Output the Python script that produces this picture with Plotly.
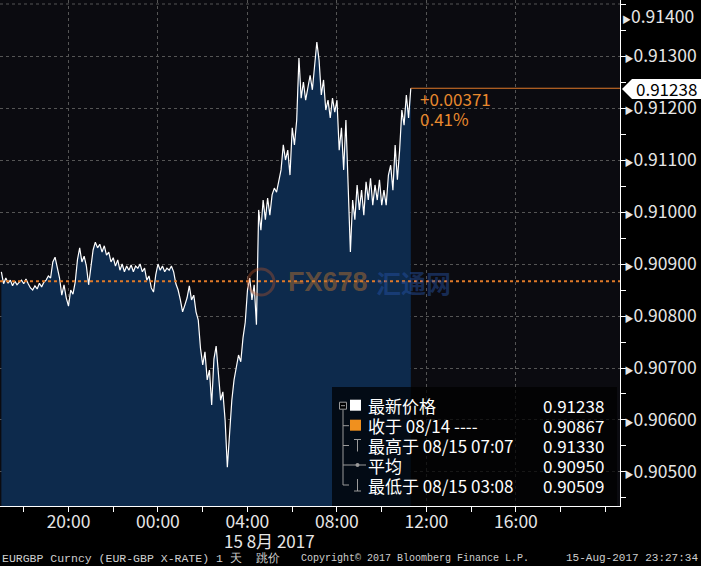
import plotly.graph_objects as go
import pandas as pd

# ---------------- data ----------------
times = pd.date_range("2017-08-14 17:00", periods=184, freq="6min")
prices = [
    0.90885, 0.90862, 0.90873, 0.90863, 0.90869, 0.90858, 0.90867, 0.90860, 0.90865, 0.90869,
    0.90862, 0.90871, 0.90862, 0.90854, 0.90850, 0.90858, 0.90852, 0.90863, 0.90856, 0.90865,
    0.90869, 0.90877, 0.90873, 0.90904, 0.90913, 0.90892, 0.90873, 0.90840, 0.90860, 0.90835,
    0.90819, 0.90850, 0.90842, 0.90865, 0.90908, 0.90931, 0.90904, 0.90915, 0.90896, 0.90860,
    0.90892, 0.90927, 0.90942, 0.90931, 0.90938, 0.90923, 0.90935, 0.90917, 0.90923, 0.90904,
    0.90912, 0.90896, 0.90908, 0.90888, 0.90900, 0.90885, 0.90896, 0.90888, 0.90898, 0.90885,
    0.90896, 0.90892, 0.90900, 0.90885, 0.90892, 0.90869, 0.90877, 0.90854, 0.90846, 0.90879,
    0.90900, 0.90888, 0.90896, 0.90885, 0.90892, 0.90888, 0.90896, 0.90885, 0.90862, 0.90850,
    0.90831, 0.90808, 0.90821, 0.90835, 0.90858, 0.90831, 0.90840, 0.90808, 0.90792, 0.90738,
    0.90706, 0.90731, 0.90677, 0.90696, 0.90629, 0.90717, 0.90742, 0.90688, 0.90638, 0.90654,
    0.90600, 0.90509, 0.90581, 0.90638, 0.90677, 0.90700, 0.90725, 0.90712, 0.90758, 0.90788,
    0.90850, 0.90873, 0.90831, 0.90860, 0.90783, 0.91004, 0.90965, 0.91023, 0.90985, 0.91027,
    0.90994, 0.91033, 0.91046, 0.91038, 0.91062, 0.91081, 0.91129, 0.91100, 0.91119, 0.91071,
    0.91162, 0.91129, 0.91177, 0.91296, 0.91219, 0.91250, 0.91215, 0.91238, 0.91263, 0.91235,
    0.91283, 0.91327, 0.91292, 0.91225, 0.91254, 0.91196, 0.91215, 0.91181, 0.91219, 0.91192,
    0.91215, 0.91119, 0.91162, 0.91081, 0.91177, 0.91033, 0.90923, 0.91023, 0.90985, 0.91052,
    0.91004, 0.91042, 0.90994, 0.91058, 0.91023, 0.91065, 0.91013, 0.91052, 0.91023, 0.91062,
    0.91013, 0.91042, 0.91013, 0.91071, 0.91090, 0.91042, 0.91129, 0.91062, 0.91119, 0.91196,
    0.91167, 0.91225, 0.91181, 0.91238,
]
prev_close = 0.90867

x_tickvals = ["2017-08-14 20:00", "2017-08-15 00:00", "2017-08-15 04:00",
              "2017-08-15 08:00", "2017-08-15 12:00", "2017-08-15 16:00"]
x_ticktext = ["20:00", "00:00", "04:00", "08:00", "12:00", "16:00"]
y_tickvals = [0.905, 0.906, 0.907, 0.908, 0.909, 0.910, 0.911, 0.912, 0.913, 0.914]
y_ticktext = ["0.90500", "0.90600", "0.90700", "0.90800", "0.90900",
              "0.91000", "0.91100", "0.91200", "0.91300", "0.91400"]

legend_labels = ["最新价格", "收于 08/14 ----", "最高于 08/15 07:07", "平均", "最低于 08/15 03:08"]
legend_values = ["0.91238", "0.90867", "0.91330", "0.90950", "0.90509"]

date_label = "15 8月 2017"
footer_left = "EURGBP Curncy (EUR-GBP X-RATE) 1 天  跳价"
footer_mid = "Copyright© 2017 Bloomberg Finance L.P."
footer_right = "15-Aug-2017 23:27:34"

# ---------------- layout helpers ----------------
W, H = 701, 566
PW, PH = 620, 506  # plot area in pixels


def px(x):
    return x / PW


def py(y):
    return (PH - y) / PH


ORANGE = "#e07a28"
FONT = "Noto Sans CJK SC, Noto Sans, sans-serif"
TICK_SIZE = 17.5
x_range = ["2017-08-14 16:56:20", "2017-08-15 20:39:00"]
y_range = [0.904346, 0.914077]
TRI = "<span style='font-size:9px'>▶</span>"

fig = go.Figure()
fig.add_trace(go.Scatter(
    x=times, y=prices, mode="lines",
    line=dict(color="white", width=1.2),
    fill="tozeroy", fillcolor="#0d2a4c",
    hoverinfo="skip", showlegend=False,
))

shapes = []
annotations = []

# grid line for the top tick (label drawn as annotation)
shapes.append(dict(type="line", xref="paper", yref="y", x0=0, x1=1,
                   y0=y_tickvals[-1], y1=y_tickvals[-1],
                   line=dict(color="#555555", width=1, dash="3px,3px"), layer="below"))

# previous close dotted line
shapes.append(dict(type="line", xref="paper", yref="y", x0=0, x1=1,
                   y0=prev_close, y1=prev_close,
                   line=dict(color=ORANGE, width=2, dash="dot"), layer="above"))
# last price line
last = prices[-1]
shapes.append(dict(type="line", xref="x", yref="y", x0=times[-1], x1=x_range[1],
                   y0=last, y1=last, line=dict(color=ORANGE, width=1.2), layer="above"))

# change annotations
chg = last - prev_close
pct = chg / prev_close * 100
annotations.append(dict(xref="paper", yref="paper", x=px(418), y=py(99), xanchor="left",
                        yanchor="middle", text=f"+{chg:.5f}", showarrow=False,
                        font=dict(family=FONT, size=17, color="#e8892e")))
annotations.append(dict(xref="paper", yref="paper", x=px(418), y=py(119), xanchor="left",
                        yanchor="middle", text=f"{pct:.2f}%", showarrow=False,
                        font=dict(family=FONT, size=17, color="#e8892e")))

# price tag on axis
ty = 89
shapes.append(dict(type="path", xref="paper", yref="paper",
                   path=f"M {px(622)} {py(ty)} L {px(632)} {py(ty-10)} L {px(701)} {py(ty-10)} "
                        f"L {px(701)} {py(ty+10)} L {px(632)} {py(ty+10)} Z",
                   fillcolor="white", line=dict(width=0), layer="above"))
annotations.append(dict(xref="paper", yref="paper", x=px(666), y=py(ty), xanchor="center",
                        yanchor="middle", text=f"{last:.5f}", showarrow=False,
                        font=dict(family=FONT, size=17, color="black")))

# top tick label, pushed down to stay inside the page
annotations.append(dict(xref="paper", yref="paper", x=px(620), y=py(1), xanchor="left",
                        yanchor="top", text=TRI + y_ticktext[-1],
                        showarrow=False, xshift=0,
                        font=dict(family=FONT, size=TICK_SIZE, color="#e6e6e6")))

# watermark
annotations.append(dict(xref="paper", yref="paper", x=px(328), y=py(282), xanchor="center",
                        yanchor="middle", text="<b>FX678</b>", showarrow=False,
                        font=dict(family="Liberation Sans, sans-serif", size=27,
                                  color="rgba(200,120,45,0.45)")))
annotations.append(dict(xref="paper", yref="paper", x=px(413), y=py(282), xanchor="center",
                        yanchor="middle", text="<b>汇通网</b>", showarrow=False,
                        font=dict(family=FONT, size=25, color="rgba(40,85,170,0.45)")))
shapes.append(dict(type="circle", xref="paper", yref="paper",
                   x0=px(248), x1=px(274), y0=py(295), y1=py(269),
                   line=dict(color="rgba(200,90,40,0.35)", width=3), layer="above"))

# legend box
shapes.append(dict(type="rect", xref="paper", yref="paper", x0=px(332), x1=px(617),
                   y0=py(387), y1=py(506), fillcolor="rgba(0,0,0,0.72)",
                   line=dict(width=0), layer="above"))
rows = [405.7, 425.7, 445.5, 465.0, 485.0]
GRAY = "#9a9a9a"
# tree
shapes.append(dict(type="line", xref="paper", yref="paper", x0=px(343), x1=px(343),
                   y0=py(rows[0] + 4), y1=py(rows[4]), line=dict(color=GRAY, width=1), layer="above"))
shapes.append(dict(type="rect", xref="paper", yref="paper", x0=px(339.5), x1=px(346.5),
                   y0=py(rows[0] - 3.5), y1=py(rows[0] + 3.5), fillcolor="black",
                   line=dict(color=GRAY, width=1), layer="above"))
shapes.append(dict(type="line", xref="paper", yref="paper", x0=px(341), x1=px(345),
                   y0=py(rows[0]), y1=py(rows[0]), line=dict(color=GRAY, width=1), layer="above"))
for r in rows[1:]:
    shapes.append(dict(type="line", xref="paper", yref="paper", x0=px(343), x1=px(349),
                       y0=py(r), y1=py(r), line=dict(color=GRAY, width=1), layer="above"))
# markers
shapes.append(dict(type="rect", xref="paper", yref="paper", x0=px(350), x1=px(361),
                   y0=py(rows[0] - 6), y1=py(rows[0] + 5), fillcolor="white",
                   line=dict(width=0), layer="above"))
shapes.append(dict(type="rect", xref="paper", yref="paper", x0=px(350), x1=px(361),
                   y0=py(rows[1] - 6), y1=py(rows[1] + 5), fillcolor="#f0901e",
                   line=dict(width=0), layer="above"))
r = rows[2]
shapes.append(dict(type="line", xref="paper", yref="paper", x0=px(354), x1=px(361),
                   y0=py(r - 6), y1=py(r - 6), line=dict(color=GRAY, width=1), layer="above"))
shapes.append(dict(type="line", xref="paper", yref="paper", x0=px(357.5), x1=px(357.5),
                   y0=py(r - 6), y1=py(r + 6), line=dict(color=GRAY, width=1), layer="above"))
r = rows[3]
shapes.append(dict(type="line", xref="paper", yref="paper", x0=px(349), x1=px(366),
                   y0=py(r), y1=py(r), line=dict(color=GRAY, width=1), layer="above"))
shapes.append(dict(type="circle", xref="paper", yref="paper", x0=px(355.5), x1=px(359.5),
                   y0=py(r - 2), y1=py(r + 2), fillcolor=GRAY, line=dict(width=0), layer="above"))
r = rows[4]
shapes.append(dict(type="line", xref="paper", yref="paper", x0=px(354), x1=px(361),
                   y0=py(r + 6), y1=py(r + 6), line=dict(color=GRAY, width=1), layer="above"))
shapes.append(dict(type="line", xref="paper", yref="paper", x0=px(357.5), x1=px(357.5),
                   y0=py(r - 6), y1=py(r + 6), line=dict(color=GRAY, width=1), layer="above"))
for r, lab, val in zip(rows, legend_labels, legend_values):
    annotations.append(dict(xref="paper", yref="paper", x=px(366), y=py(r), xanchor="left",
                            yanchor="middle", text=lab, showarrow=False,
                            font=dict(family=FONT, size=17, color="white")))
    annotations.append(dict(xref="paper", yref="paper", x=px(606), y=py(r), xanchor="right",
                            yanchor="middle", text=val, showarrow=False,
                            font=dict(family=FONT, size=17, color="white")))

# date line & footer
annotations.append(dict(xref="paper", yref="paper", x=px(269), y=py(540), xanchor="center",
                        yanchor="middle", text=date_label, showarrow=False,
                        font=dict(family=FONT, size=17, color="#e6e6e6")))
annotations.append(dict(xref="paper", yref="paper", x=px(0), y=py(558), xanchor="left",
                        yanchor="middle", text=footer_left, showarrow=False,
                        font=dict(family="Liberation Mono, monospace", size=11.5, color="#cfcfcf")))
annotations.append(dict(xref="paper", yref="paper", x=px(299), y=py(558), xanchor="left",
                        yanchor="middle", text=footer_mid, showarrow=False,
                        font=dict(family="Liberation Mono, monospace", size=10, color="#cfcfcf")))
annotations.append(dict(xref="paper", yref="paper", x=px(700), y=py(558), xanchor="right",
                        yanchor="middle", text=footer_right, showarrow=False,
                        font=dict(family="Liberation Mono, monospace", size=11, color="#cfcfcf")))

y_ticktext_fmt = [TRI + t for t in y_ticktext]

fig.update_layout(
    width=W, height=H,
    margin=dict(l=0, r=W - PW, t=0, b=H - PH, pad=0),
    paper_bgcolor="black", plot_bgcolor="#0b0b10",
    showlegend=False,
    shapes=shapes, annotations=annotations,
    xaxis=dict(
        range=x_range, type="date",
        tickvals=x_tickvals, ticktext=x_ticktext,
        showgrid=True, gridcolor="#555555", griddash="3px,3px", gridwidth=1,
        showline=True, linecolor="white", linewidth=1,
        ticks="", tickfont=dict(family=FONT, size=17.5, color="#e6e6e6"),
        ticklabelstandoff=0,
        minor=dict(dtick=7200000, tick0="2017-08-14 18:00", ticks="outside",
                   ticklen=5, tickcolor="white", showgrid=False),
        zeroline=False, fixedrange=True,
    ),
    yaxis=dict(
        range=y_range, side="right",
        tickvals=y_tickvals[:-1], ticktext=y_ticktext_fmt[:-1],
        showgrid=True, gridcolor="#555555", griddash="3px,3px", gridwidth=1,
        showline=True, linecolor="white", linewidth=1,
        ticks="", tickfont=dict(family=FONT, size=TICK_SIZE, color="#e6e6e6"),
        minor=dict(dtick=0.0005, tick0=0.9045, ticks="outside", ticklen=5,
                   tickcolor="white", showgrid=False),
        zeroline=False, fixedrange=True,
    ),
)

fig.write_html("out.html", config={"displayModeBar": False},
               post_script="document.body.style.margin='0';document.body.style.overflow='hidden';")
